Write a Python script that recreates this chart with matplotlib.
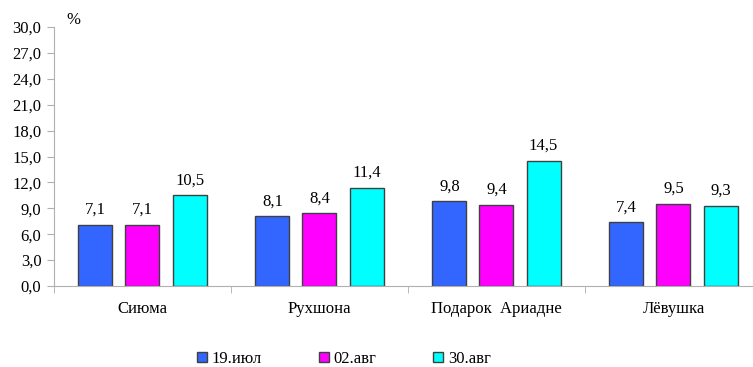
import matplotlib
matplotlib.use("Agg")
import matplotlib.pyplot as plt
from matplotlib.patches import Patch
import numpy as np

plt.rcParams['font.family'] = ['Liberation Serif', 'DejaVu Serif']

categories = ["Сиюма", "Рухшона", "Подарок  Ариадне", "Лёвушка"]
series_names = ["19.июл", "02.авг", "30.авг"]
jul19 = [7.1, 8.1, 9.8, 7.4]
aug02 = [7.1, 8.4, 9.4, 9.5]
aug30 = [10.5, 11.4, 14.5, 9.3]
colors = ["#3366FF", "#FF00FF", "#00FFFF"]
yticks = [0, 3, 6, 9, 12, 15, 18, 21, 24, 27, 30]

FS = 12

fig = plt.figure(figsize=(7.53, 3.67), dpi=100)
# the plot area runs a little past the right edge of the canvas
ax = fig.add_axes([0.0717, 0.2207, 0.9402, 0.7057])

x = np.arange(len(categories))
width = 0.192
offsets = [-0.266, 0.0, 0.266]
for vals, off, col in zip([jul19, aug02, aug30], offsets, colors):
    bars = ax.bar(x + off, vals, width, color=col, edgecolor="#404040", linewidth=1.0)
    for b, v in zip(bars, vals):
        ax.text(b.get_x() + b.get_width() / 2, v + 0.8, f"{v:.1f}".replace(".", ","),
                ha="center", va="bottom", fontsize=FS)

ax.set_xlim(-0.5, len(categories) - 0.5)
ax.set_ylim(0, 30)
ax.set_yticks(yticks)
ax.set_yticklabels([f"{t:.1f}".replace(".", ",") for t in yticks], fontsize=FS)
ax.set_xticks(x)
ax.set_xticklabels(categories, fontsize=FS)
ax.tick_params(axis="x", length=0, pad=11)
ax.set_xticks(np.arange(len(categories)) - 0.5, minor=True)
ax.tick_params(axis="x", which="minor", length=5, color="#b0b0b0", direction="out")
ax.tick_params(axis="y", length=5, color="#b0b0b0", pad=4)

for s in ["top", "right"]:
    ax.spines[s].set_visible(False)
for s in ["left", "bottom"]:
    ax.spines[s].set_color("#b0b0b0")

fig.text(0.088, 0.946, "%", fontsize=FS, ha="left", va="center")

handles = [Patch(facecolor=c, edgecolor="#404040", linewidth=1.0) for c in colors]
fig.legend(handles, series_names, loc="center", bbox_to_anchor=(0.457, 0.022),
           ncol=3, frameon=False, fontsize=FS, handlelength=0.6, handleheight=0.6,
           handletextpad=0.3, columnspacing=3.4)

fig.savefig("out.png", dpi=100)
